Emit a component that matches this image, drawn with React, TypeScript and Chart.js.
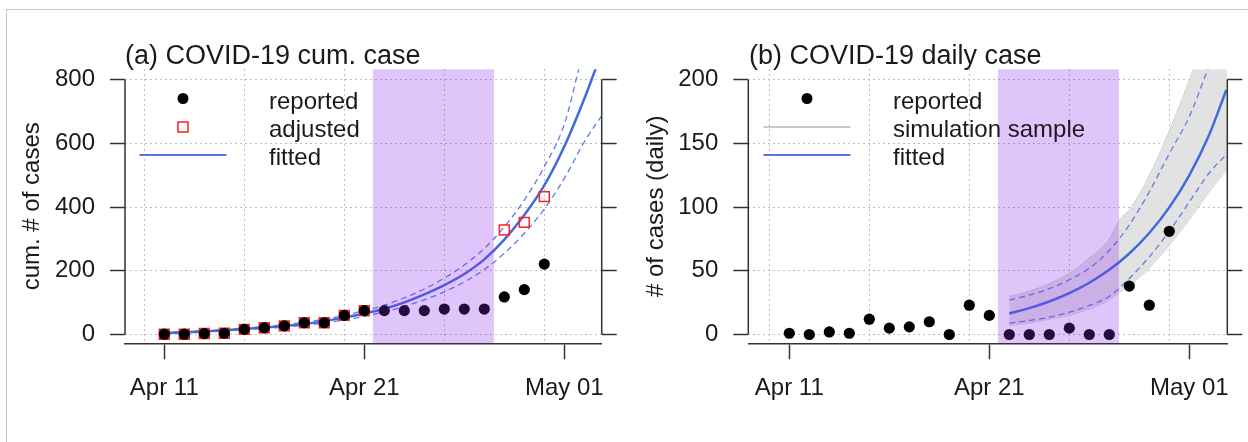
import React, { useEffect, useRef } from 'react';
import { Chart, registerables } from 'chart.js';

Chart.register(...registerables);

const FONT = '"Liberation Sans", Arial, Helvetica, sans-serif';

// x values are days since Apr 11
const xTickValues = [0, 10, 20];
const xTickLabels = ['Apr 11', 'Apr 21', 'May 01'];
const xGridValues = [-1, 4, 9, 14, 19];
const yTicksCum = [0, 200, 400, 600, 800];
const yTicksDaily = [0, 50, 100, 150, 200];
const shadeStart = 10.43;
const shadeEnd = 16.48;

const obsDays = [0, 1, 2, 3, 4, 5, 6, 7, 8, 9, 10, 11, 12, 13, 14, 15, 16, 17, 18, 19];
const reportedDaily = [1, 0, 2, 1, 12, 5, 6, 10, 0, 23, 15, 0, 0, 0, 5, 0, 0, 38, 23, 81];
const reportedCum = [1, 1, 3, 4, 16, 21, 27, 37, 37, 60, 75, 75, 75, 75, 80, 80, 80, 118, 141, 221];
const adjustedDays = [0, 1, 2, 3, 4, 5, 6, 7, 8, 9, 10, 17, 18, 19];
const adjustedCum = [1, 1, 3, 4, 16, 21, 27, 37, 37, 60, 75, 328, 352, 433];

const fitCumDays = [0, 1, 2, 3, 4, 5, 6, 7, 8, 9, 10, 11, 12, 13, 14, 15, 16, 17, 18, 19, 20, 21, 21.6];
const fitCum = [5, 7, 10, 13, 18, 22, 27, 33, 42, 53, 66, 81, 101, 126, 155, 190, 236, 298, 375, 468, 590, 740, 840];
const fitCumUpperDays = [0, 1, 2, 3, 4, 5, 6, 7, 8, 9, 10, 11, 12, 13, 14, 15, 16, 17, 18, 19, 20, 20.75];
const fitCumUpper = [7, 9, 12, 15, 20, 25, 31, 38, 48, 60, 75, 92, 115, 143, 177, 218, 270, 338, 422, 527, 660, 840];
const fitCumLowerDays = [0, 1, 2, 3, 4, 5, 6, 7, 8, 9, 10, 11, 12, 13, 14, 15, 16, 17, 18, 19, 20, 21, 21.9];
const fitCumLower = [4, 5, 8, 11, 15, 19, 23, 29, 36, 46, 57, 71, 88, 109, 134, 165, 204, 255, 318, 394, 490, 605, 690];

const fitDailyDays = [11, 12, 13, 14, 15, 16, 17, 18, 19, 20, 21, 21.85];
const fitDaily = [16.5, 20.7, 25.9, 32.4, 40.6, 50.8, 63.6, 79.7, 99.8, 125, 157, 192];
const fitDailyUpperDays = [11, 12, 13, 14, 15, 16, 17, 18, 19, 20, 20.9, 21.3];
const fitDailyUpper = [27, 31, 36, 43, 52, 66, 86, 112, 142, 171, 207, 222];
const fitDailyLowerDays = [11, 12, 13, 14, 15, 16, 17, 18, 19, 20, 21, 21.9];
const fitDailyLower = [9, 11, 13.6, 17.5, 22.8, 30, 44, 61, 81, 104, 127, 142];

const simDays = [11, 12, 13, 14, 15, 16, 16.5, 17, 18, 19, 20, 21, 21.9];
const simUpper = [30, 34, 40, 48, 60, 75, 90, 98, 125, 160, 200, 245, 280];
const simLower = [7, 9, 12, 15, 20, 27, 33, 38, 52, 70, 90, 112, 130];

const pts = (xs: number[], ys: number[]) => xs.map((x, i) => ({ x, y: ys[i] }));

const BLUE = '#4169E1';
const AXIS = '#333333';
const GRID = '#bdbdbd';
const TEXT = '#1a1a1a';

type LegendItem = { label: string; kind: 'dot' | 'square' | 'blue' | 'gray' };

interface PanelSpec {
  title: string;
  yTitle: string;
  yTicks: number[];
  xMin: number;
  xMax: number;
  yMin: number;
  yMax: number;
  leftW: number;
  rightW: number;
  legend: LegendItem[];
  datasets: any[];
}

const makeDecor = (spec: PanelSpec) => ({
  id: 'decor',
  afterDatasetsDraw(chart: any) {
    const { ctx, chartArea, scales } = chart;
    const xs = scales.x;
    const x0 = xs.getPixelForValue(shadeStart);
    const x1 = xs.getPixelForValue(shadeEnd);
    ctx.save();
    ctx.fillStyle = 'rgba(140,40,240,0.27)';
    ctx.fillRect(x0, chartArea.top, x1 - x0, chartArea.bottom - chartArea.top);
    ctx.restore();
  },
  afterDraw(chart: any) {
    const { ctx, chartArea, scales } = chart;
    const ys = scales.y;
    const yA = ys.getPixelForValue(spec.yTicks[0]);
    const yB = ys.getPixelForValue(spec.yTicks[spec.yTicks.length - 1]);
    ctx.save();
    ctx.strokeStyle = AXIS;
    ctx.lineWidth = 1.5;
    ctx.beginPath();
    ctx.moveTo(chartArea.left, yA);
    ctx.lineTo(chartArea.left, yB);
    ctx.moveTo(chartArea.right, yA);
    ctx.lineTo(chartArea.right, yB);
    ctx.stroke();

    // title
    ctx.fillStyle = TEXT;
    ctx.font = `27px ${FONT}`;
    ctx.textBaseline = 'alphabetic';
    ctx.textAlign = 'left';
    ctx.fillText(spec.title, 125, 63.5);

    // legend
    const symX = 183;
    const textX = 269;
    const rowY = [98.5, 127, 155];
    const baseY = [108.5, 136.8, 165];
    ctx.font = `24px ${FONT}`;
    spec.legend.forEach((item, i) => {
      const y = rowY[i];
      if (item.kind === 'dot') {
        ctx.fillStyle = '#000';
        ctx.beginPath();
        ctx.arc(symX, y, 5.5, 0, Math.PI * 2);
        ctx.fill();
      } else if (item.kind === 'square') {
        ctx.strokeStyle = '#ff2020';
        ctx.lineWidth = 1.5;
        ctx.strokeRect(symX - 5, y - 5, 10, 10);
      } else {
        ctx.strokeStyle = item.kind === 'blue' ? '#5577e6' : '#c8c8c8';
        ctx.lineWidth = 2;
        ctx.beginPath();
        ctx.moveTo(139.5, y);
        ctx.lineTo(226.5, y);
        ctx.stroke();
      }
      ctx.fillStyle = TEXT;
      ctx.fillText(item.label, textX, baseY[i]);
    });
    ctx.restore();
  },
});

const makeConfig = (spec: PanelSpec): any => {
  const tickFont = { family: FONT, size: 24 };
  return {
    type: 'line',
    data: { datasets: spec.datasets },
    options: {
      responsive: false,
      animation: false,
      events: [],
      layout: { padding: 0 },
      plugins: { legend: { display: false }, tooltip: { enabled: false }, title: { display: false } },
      scales: {
        x: {
          type: 'linear',
          axis: 'x',
          position: 'bottom',
          min: spec.xMin,
          max: spec.xMax,
          afterBuildTicks: (s: any) => {
            s.ticks = xTickValues.map((v) => ({ value: v }));
          },
          afterFit: (s: any) => {
            s.height = 98.7;
          },
          ticks: {
            autoSkip: false,
            maxRotation: 0,
            padding: 15,
            color: TEXT,
            font: tickFont,
            callback: (v: number) => xTickLabels[xTickValues.indexOf(v)] ?? '',
          },
          grid: { drawOnChartArea: false, drawTicks: true, tickLength: 16, tickColor: AXIS, tickWidth: 1.5 },
          border: { display: true, color: AXIS, width: 1.5 },
        },
        xg: {
          type: 'linear',
          axis: 'x',
          position: 'top',
          min: spec.xMin,
          max: spec.xMax,
          afterBuildTicks: (s: any) => {
            s.ticks = xGridValues.map((v) => ({ value: v }));
          },
          afterFit: (s: any) => {
            s.height = 69.3;
          },
          ticks: { display: false },
          grid: { color: GRID, lineWidth: 1, drawTicks: false, drawOnChartArea: true },
          border: { display: false, dash: [2, 3] },
        },
        y: {
          type: 'linear',
          axis: 'y',
          position: 'left',
          min: spec.yMin,
          max: spec.yMax,
          afterBuildTicks: (s: any) => {
            s.ticks = spec.yTicks.map((v) => ({ value: v }));
          },
          afterFit: (s: any) => {
            s.width = spec.leftW;
          },
          ticks: { padding: 15, color: TEXT, font: tickFont },
          grid: {
            color: GRID,
            lineWidth: 1,
            drawTicks: true,
            tickLength: 15,
            tickColor: AXIS,
            tickWidth: 1.5,
            tickBorderDash: [],
          },
          border: { display: false, dash: [2, 3] },
          title: {
            display: true,
            text: spec.yTitle,
            color: TEXT,
            font: tickFont,
            padding: { top: 17.6, bottom: 0 },
          },
        },
        y2: {
          type: 'linear',
          axis: 'y',
          position: 'right',
          min: spec.yMin,
          max: spec.yMax,
          afterBuildTicks: (s: any) => {
            s.ticks = spec.yTicks.map((v) => ({ value: v }));
          },
          afterFit: (s: any) => {
            s.width = spec.rightW;
          },
          ticks: { display: false },
          grid: { drawOnChartArea: false, drawTicks: true, tickLength: 15, tickColor: AXIS, tickWidth: 1.5 },
          border: { display: false },
        },
      },
    },
    plugins: [makeDecor(spec)],
  };
};

const lineDs = (data: any[], color: string, width: number, dash: number[] = []) => ({
  data,
  xAxisID: 'x',
  yAxisID: 'y',
  borderColor: color,
  borderWidth: width,
  borderDash: dash,
  pointRadius: 0,
  fill: false,
  cubicInterpolationMode: 'monotone',
});

const dotDs = (data: any[]) => ({
  data,
  xAxisID: 'x',
  yAxisID: 'y',
  showLine: false,
  pointRadius: 5.6,
  pointStyle: 'circle',
  pointBackgroundColor: '#000',
  pointBorderColor: '#000',
  pointBorderWidth: 0,
});

const panelA: PanelSpec = {
  title: '(a) COVID-19 cum. case',
  yTitle: 'cum. # of cases',
  yTicks: yTicksCum,
  xMin: -1.965,
  xMax: 21.87,
  yMin: -27.6,
  yMax: 832.7,
  leftW: 125,
  rightW: 22.3,
  legend: [
    { label: 'reported', kind: 'dot' },
    { label: 'adjusted', kind: 'square' },
    { label: 'fitted', kind: 'blue' },
  ],
  datasets: [
    dotDs(pts(obsDays, reportedCum)),
    {
      data: pts(adjustedDays, adjustedCum),
      xAxisID: 'x',
      yAxisID: 'y',
      showLine: false,
      pointStyle: 'rect',
      pointRadius: 7,
      pointBackgroundColor: 'rgba(0,0,0,0)',
      pointBorderColor: '#ff2020',
      pointBorderWidth: 1.5,
    },
    lineDs(pts(fitCumDays, fitCum), BLUE, 2.5),
    lineDs(pts(fitCumUpperDays, fitCumUpper), '#5a7fe8', 1.3, [6, 4]),
    lineDs(pts(fitCumLowerDays, fitCumLower), '#5a7fe8', 1.3, [6, 4]),
  ],
};

const panelB: PanelSpec = {
  title: '(b) COVID-19 daily case',
  yTitle: '# of cases (daily)',
  yTicks: yTicksDaily,
  xMin: -2.05,
  xMax: 21.9,
  yMin: -6.9,
  yMax: 208.2,
  leftW: 124.3,
  rightW: 20.7,
  legend: [
    { label: 'reported', kind: 'dot' },
    { label: 'simulation sample', kind: 'gray' },
    { label: 'fitted', kind: 'blue' },
  ],
  datasets: [
    dotDs(pts(obsDays, reportedDaily)),
    lineDs(pts(fitDailyDays, fitDaily), BLUE, 2.5),
    lineDs(pts(fitDailyUpperDays, fitDailyUpper), '#5a7fe8', 1.3, [6, 4]),
    lineDs(pts(fitDailyLowerDays, fitDailyLower), '#5a7fe8', 1.3, [6, 4]),
    {
      ...lineDs(pts(simDays, simUpper), '#d4d4d4', 1),
      fill: 5,
      backgroundColor: '#e2e2e2',
    },
    lineDs(pts(simDays, simLower), '#d4d4d4', 1),
  ],
};

function Panel({ spec, left }: { spec: PanelSpec; left: number }) {
  const ref = useRef<HTMLCanvasElement | null>(null);
  useEffect(() => {
    if (!ref.current) return;
    const chart = new Chart(ref.current, makeConfig(spec));
    return () => chart.destroy();
  }, [spec]);
  return (
    <canvas
      ref={ref}
      width={624}
      height={442}
      style={{ position: 'absolute', left, top: 0, width: 624, height: 442, display: 'block' }}
    />
  );
}

export default function App() {
  return (
    <div
      style={{
        position: 'absolute',
        left: 0,
        top: 0,
        width: 1248,
        height: 442,
        overflow: 'hidden',
        background: '#ffffff',
      }}
    >
      <div
        style={{
          position: 'absolute',
          left: 6,
          top: 9,
          width: 1300,
          height: 500,
          borderTop: '1.5px solid #c8c8c8',
          borderLeft: '1.5px solid #c8c8c8',
        }}
      />
      <Panel spec={panelA} left={0} />
      <Panel spec={panelB} left={624} />
    </div>
  );
}
